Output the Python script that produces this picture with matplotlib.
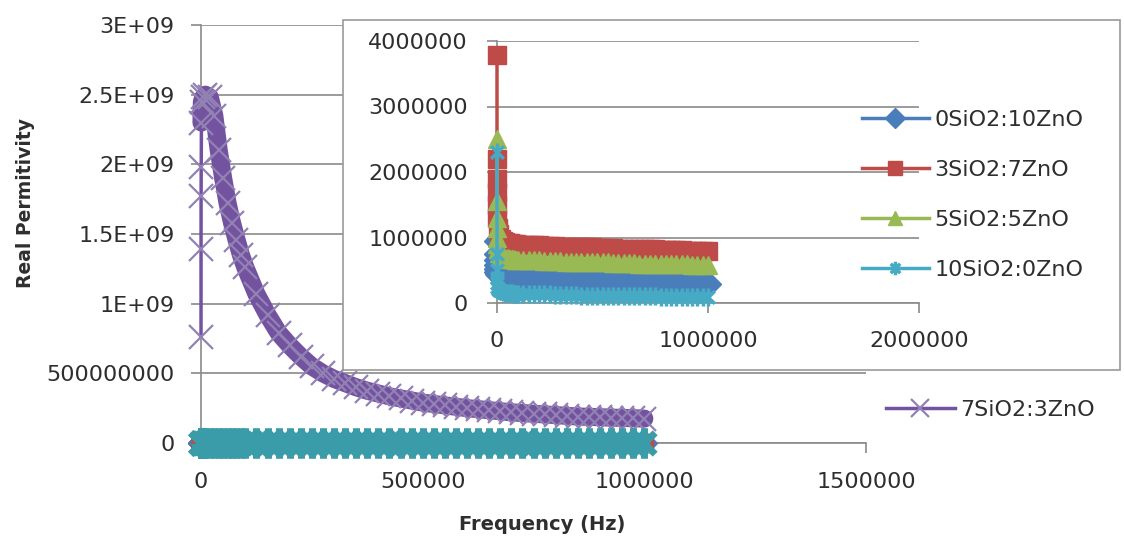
import numpy as np
import matplotlib.pyplot as plt
from matplotlib.path import Path
from matplotlib.patches import Rectangle

W, H = 1124, 541

# frequency points (Hz)
freq = [20, 100, 200, 500, 1000, 2000, 5000, 10000, 20000, 30000, 40000, 50000,
        60000, 70000, 80000, 90000,
        100000, 125000, 150000, 175000, 200000, 225000, 250000, 275000, 300000,
        325000, 350000, 375000, 400000, 425000, 450000, 475000, 500000, 525000,
        550000, 575000, 600000, 625000, 650000, 675000, 700000, 725000, 750000,
        775000, 800000, 825000, 850000, 875000, 900000, 925000, 950000, 975000,
        1000000]

# real permittivity, x1e6
s0_10 = [0.95, 0.75, 0.65, 0.58, 0.52, 0.48, 0.45, 0.43, 0.41, 0.40, 0.39, 0.385,
         0.38, 0.378, 0.375, 0.372,
         0.37, 0.37, 0.36, 0.36, 0.36, 0.35, 0.35, 0.35, 0.35, 0.34, 0.34, 0.34,
         0.34, 0.33, 0.33, 0.33, 0.33, 0.32, 0.32, 0.32, 0.32, 0.32, 0.31, 0.31,
         0.31, 0.31, 0.31, 0.30, 0.30, 0.30, 0.30, 0.30, 0.29, 0.29, 0.29, 0.29,
         0.29]
s3_7 = [3.78, 2.20, 1.90, 1.70, 1.50, 1.30, 1.15, 1.05, 0.98, 0.95, 0.93, 0.92,
        0.91, 0.905, 0.90, 0.895,
        0.89, 0.89, 0.88, 0.88, 0.88, 0.87, 0.87, 0.87, 0.86, 0.86, 0.86, 0.86,
        0.85, 0.85, 0.85, 0.84, 0.84, 0.84, 0.84, 0.83, 0.83, 0.83, 0.83, 0.82,
        0.82, 0.82, 0.82, 0.81, 0.81, 0.81, 0.81, 0.81, 0.80, 0.80, 0.80, 0.80,
        0.80]
s5_5 = [2.50, 1.55, 1.30, 1.15, 1.00, 0.90, 0.82, 0.76, 0.72, 0.70, 0.69, 0.68,
        0.675, 0.67, 0.665, 0.66,
        0.66, 0.66, 0.65, 0.65, 0.65, 0.64, 0.64, 0.64, 0.64, 0.63, 0.63, 0.63,
        0.63, 0.62, 0.62, 0.62, 0.62, 0.62, 0.61, 0.61, 0.61, 0.61, 0.61, 0.60,
        0.60, 0.60, 0.60, 0.60, 0.59, 0.59, 0.59, 0.59, 0.59, 0.58, 0.58, 0.58,
        0.58]
s10_0 = [2.30, 0.75, 0.50, 0.38, 0.30, 0.25, 0.22, 0.20, 0.18, 0.17, 0.16, 0.155,
         0.15, 0.148, 0.145, 0.142,
         0.14, 0.14, 0.14, 0.13, 0.13, 0.13, 0.13, 0.12, 0.12, 0.12, 0.12, 0.12,
         0.11, 0.11, 0.11, 0.11, 0.11, 0.11, 0.10, 0.10, 0.10, 0.10, 0.10, 0.10,
         0.10, 0.10, 0.10, 0.09, 0.09, 0.09, 0.09, 0.09, 0.09, 0.09, 0.09, 0.09,
         0.09]
# x1e9
s7_3 = [0.76, 1.39, 1.77, 1.98, 2.30, 2.45, 2.48, 2.50, 2.48, 2.35, 2.10, 1.90,
        1.72, 1.58, 1.46, 1.35,
        1.26, 1.07, 0.92, 0.79, 0.70, 0.62, 0.55, 0.50, 0.46, 0.43, 0.40, 0.375,
        0.355, 0.335, 0.32, 0.305, 0.29, 0.28, 0.27, 0.26, 0.25, 0.243, 0.235,
        0.228, 0.22, 0.215, 0.21, 0.205, 0.20, 0.195, 0.19, 0.188, 0.185, 0.182,
        0.18, 0.178, 0.175]

names = ['0SiO2:10ZnO', '3SiO2:7ZnO', '5SiO2:5ZnO', '10SiO2:0ZnO']
main_name = '7SiO2:3ZnO'
main_yticks = [0, 5e8, 1e9, 1.5e9, 2e9, 2.5e9, 3e9]
main_ylabels = ['0', '500000000', '1E+09', '1.5E+09', '2E+09', '2.5E+09', '3E+09']
main_xticks = [0, 500000, 1000000, 1500000]
ins_yticks = [0, 1e6, 2e6, 3e6, 4e6]
ins_xticks = [0, 1000000, 2000000]

blue, red, green, purple, aqua = '#4A7EBB', '#BE4B48', '#98B954', '#7352A0', '#46AAC5'
grid = '#8A8A8A'
txt = '#2E2E2E'

# Excel style "star" marker: x with a vertical bar
star = Path([(0, -1), (0, 1), (-0.7, -0.7), (0.7, 0.7), (-0.7, 0.7), (0.7, -0.7)],
            [Path.MOVETO, Path.LINETO] * 3)

plt.rcParams['font.family'] = 'DejaVu Sans'


def box(l, t, r, b):
    return [l / W, 1 - b / H, (r - l) / W, (b - t) / H]


def style(ax):
    for s in ['top', 'right']:
        ax.spines[s].set_visible(False)
    for s in ['left', 'bottom']:
        ax.spines[s].set_color(grid)
        ax.spines[s].set_linewidth(1.2)
    ax.grid(axis='y', color=grid, lw=1.2)
    ax.set_axisbelow(True)
    ax.tick_params(length=7, width=1.2, color=grid, labelsize=16, labelcolor=txt)


fig = plt.figure(figsize=(W / 100, H / 100), dpi=100)
f = np.array(freq)

# main chart
ax = fig.add_axes(box(201, 25, 866, 443))
style(ax)
ax.tick_params(axis='y', pad=12)
ax.tick_params(axis='x', pad=14)
ax.set_xlim(0, 1.5e6)
ax.set_ylim(0, 3e9)
ax.set_yticks(main_yticks)
ax.set_yticklabels(main_ylabels)
ax.set_xticks(main_xticks)
ax.set_xticklabels([str(v) for v in main_xticks])

kw = dict(lw=2.5, ms=13, clip_on=False, zorder=3)
ax.plot(f, np.array(s0_10) * 1e6, color=blue, marker='D', **kw)
ax.plot(f, np.array(s3_7) * 1e6, color=red, marker='s', **kw)
ax.plot(f, np.array(s5_5) * 1e6, color=green, marker='^', **kw)
p73 = np.array(s7_3) * 1e9
# dense markers in the original merge into a thick ribbon
ax.plot(f[4:], p73[4:], color=purple, lw=13, solid_capstyle='round',
        solid_joinstyle='round', clip_on=False, zorder=3)
pl, = ax.plot(f, p73, color=purple, marker='x', lw=2.5, ms=17,
              mew=1.6, mec='#9282B4', clip_on=False, zorder=3)
ax.plot(f, np.array(s10_0) * 1e6, color='#3A9CA8', lw=14, clip_on=False, zorder=3,
        solid_capstyle='butt')
ax.plot(f, np.array(s10_0) * 1e6, color='#3A9CA8', marker=star, lw=2.5, ms=22,
        mew=5, clip_on=False, zorder=3)

fig.text(26 / W, 1 - 203 / H, 'Real Permitivity', rotation=90, ha='center',
         va='center', fontsize=13.5, fontweight='bold', color=txt)
fig.text(542 / W, 1 - 524 / H, 'Frequency (Hz)', ha='center', va='center',
         fontsize=14, fontweight='bold', color=txt)

fig.legend(handles=[pl], labels=[main_name], loc='center left',
           bbox_to_anchor=(886 / W, 1 - 410 / H), frameon=False, fontsize=16,
           handlelength=3.1, handletextpad=0.25, borderpad=0, borderaxespad=0,
           labelcolor=txt, markerscale=0.8)

# inset chart on a white panel
fig.patches.append(Rectangle((343 / W, 1 - 370 / H), (1120 - 343) / W, (370 - 20) / H,
                             transform=fig.transFigure, facecolor='white',
                             edgecolor='#9A9A9A', lw=1.2, zorder=1))
ax2 = fig.add_axes(box(497, 41, 919, 303))
ax2.set_zorder(2)
style(ax2)
ax2.tick_params(axis='y', pad=14)
ax2.tick_params(axis='x', pad=13)
ax2.set_xlim(0, 2e6)
ax2.set_ylim(0, 4e6)
ax2.set_yticks(ins_yticks)
ax2.set_yticklabels([str(int(v)) for v in ins_yticks])
ax2.set_xticks(ins_xticks)
ax2.set_xticklabels([str(v) for v in ins_xticks])

kw2 = dict(lw=2.5, ms=13, clip_on=False, zorder=3)
h = []
h += ax2.plot(f, np.array(s0_10) * 1e6, color=blue, marker='D', **kw2)
h += ax2.plot(f, np.array(s3_7) * 1e6, color=red, marker='s', **kw2)
h += ax2.plot(f, np.array(s5_5) * 1e6, color=green, marker='^', **kw2)
h += ax2.plot(f, np.array(s10_0) * 1e6, color=aqua, marker=star, mew=2.5, **kw2)

fig.legend(handles=h, labels=names, loc='upper left',
           bbox_to_anchor=(862 / W, 1 - 110 / H), frameon=False, fontsize=16,
           handlelength=3.0, handletextpad=0.25, labelspacing=1.35, borderpad=0,
           borderaxespad=0, labelcolor=txt, markerscale=0.75)

fig.savefig('out.png', dpi=100)
